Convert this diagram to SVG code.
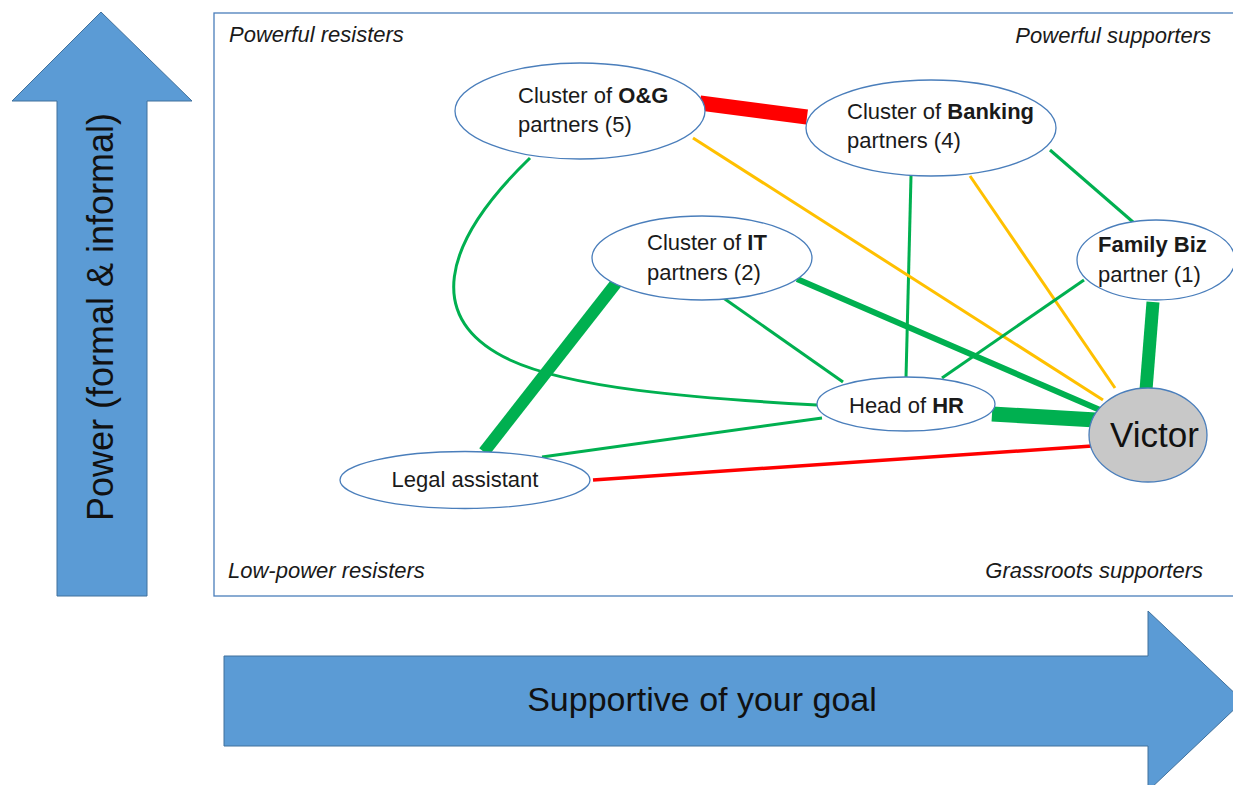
<svg xmlns="http://www.w3.org/2000/svg" width="1233" height="785" viewBox="0 0 1233 785">
<style>
.arrow{fill:#5b9bd5;stroke:#41719c;stroke-width:1}
.frame{fill:none;stroke:#4a7ebb;stroke-width:1.3}
.q{font-family:"Liberation Sans",Arial,sans-serif;font-size:22px;font-style:italic;fill:#1a1a1a}
.t{font-family:"Liberation Sans",Arial,sans-serif;font-size:22px;fill:#1a1a1a}
.big{font-family:"Liberation Sans",Arial,sans-serif;fill:#111}
.b{font-weight:bold}
.node{fill:#ffffff;stroke:#4a7ebb;stroke-width:1.3}
.victor{fill:#c8c8c8;stroke:#4a7ebb;stroke-width:1.3}
.g{stroke:#00b050;fill:none}
.o{stroke:#ffc000;fill:none}
.r{stroke:#ff0000;fill:none}
</style>
<rect width="1233" height="785" fill="#ffffff"/>
<g id="power-axis">
<polygon class="arrow" points="101,12 192,101 147,101 147,596 57,596 57,101 12,101"/>
<text class="big" font-size="36" text-anchor="middle" transform="translate(113,317) rotate(-90)">Power (formal &amp; informal)</text>
</g>
<g id="support-axis">
<polygon class="arrow" points="224,656 1148,656 1148,611 1243,701 1148,791 1148,746 224,746"/>
<text class="big" font-size="34" x="702" y="711" text-anchor="middle">Supportive of your goal</text>
</g>
<g id="frame">
<rect class="frame" x="214" y="13" width="1040" height="583"/>
<text class="q" x="229" y="42">Powerful resisters</text>
<text class="q" x="1211" y="43" text-anchor="end">Powerful supporters</text>
<text class="q" x="228" y="578">Low-power resisters</text>
<text class="q" x="1203" y="578" text-anchor="end">Grassroots supporters</text>
</g>
<g id="connectors">
<line class="r" x1="700" y1="103" x2="807" y2="117" stroke-width="15"/>
<path class="g" stroke-width="3" d="M530,158 C440,245 425,320 510,360 C570,388 690,398 817,405"/>
<line class="g" x1="617" y1="282" x2="484" y2="452" stroke-width="12"/>
<line class="g" x1="722" y1="297" x2="843" y2="382" stroke-width="3"/>
<line class="g" x1="797" y1="279" x2="1100" y2="410" stroke-width="6"/>
<line class="g" x1="911" y1="176" x2="906" y2="378" stroke-width="3"/>
<line class="o" x1="693" y1="138" x2="1103" y2="400" stroke-width="3"/>
<line class="o" x1="970" y1="176" x2="1115" y2="388" stroke-width="3"/>
<line class="g" x1="1050" y1="150" x2="1133" y2="222" stroke-width="3"/>
<line class="g" x1="1084" y1="280" x2="942" y2="378" stroke-width="3"/>
<line class="g" x1="1153" y1="302" x2="1146" y2="390" stroke-width="13"/>
<line class="g" x1="992" y1="414" x2="1096" y2="420" stroke-width="15"/>
<line class="g" x1="542" y1="457" x2="822" y2="418" stroke-width="3"/>
<line class="r" x1="593" y1="480" x2="1092" y2="446" stroke-width="3.5"/>
</g>
<g id="node-og">
<ellipse class="node" cx="580" cy="111" rx="125" ry="48"/>
<text class="t" x="518" y="103">Cluster of <tspan class="b">O&amp;G</tspan></text>
<text class="t" x="518" y="132">partners (5)</text>
</g>
<g id="node-banking">
<ellipse class="node" cx="931" cy="128" rx="125" ry="48"/>
<text class="t" x="847" y="119">Cluster of <tspan class="b">Banking</tspan></text>
<text class="t" x="847" y="148">partners (4)</text>
</g>
<g id="node-it">
<ellipse class="node" cx="702" cy="258" rx="110" ry="42"/>
<text class="t" x="647" y="250">Cluster of <tspan class="b">IT</tspan></text>
<text class="t" x="647" y="280">partners (2)</text>
</g>
<g id="node-family">
<ellipse class="node" cx="1156" cy="260" rx="79" ry="40"/>
<text class="t b" x="1098" y="252">Family Biz</text>
<text class="t" x="1098" y="282">partner (1)</text>
</g>
<g id="node-hr">
<ellipse class="node" cx="906" cy="404" rx="89" ry="27"/>
<text class="t" x="849" y="413">Head of <tspan class="b">HR</tspan></text>
</g>
<g id="node-victor">
<ellipse class="victor" cx="1148" cy="435" rx="59" ry="47"/>
<text class="big" font-size="35" x="1110" y="447">Victor</text>
</g>
<g id="node-legal">
<ellipse class="node" cx="465" cy="480" rx="125" ry="28.5"/>
<text class="t" x="465" y="487" text-anchor="middle">Legal assistant</text>
</g>
</svg>
